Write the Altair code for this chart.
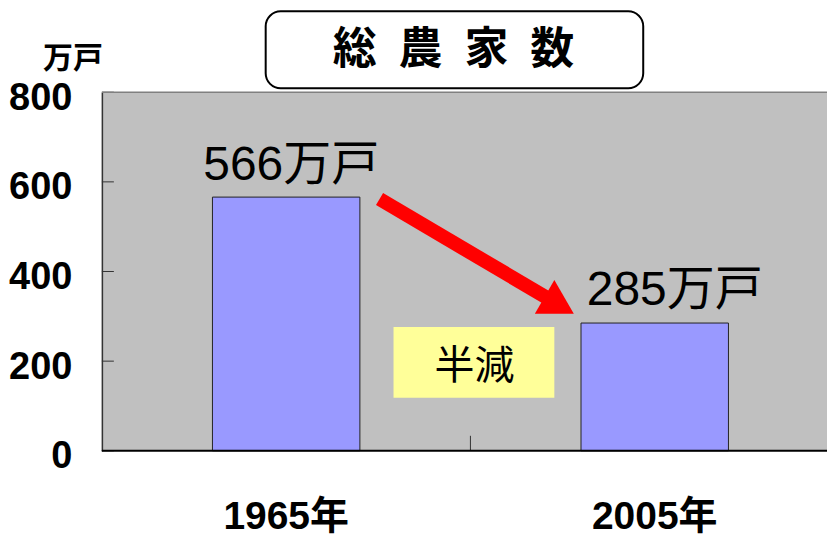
import altair as alt
import pandas as pd

# ---- data ----
years = ["1965年", "2005年"]
households = [566, 285]          # 万戸
y_ticks = [0, 200, 400, 600, 800]
title_text = "総\u2002農\u2002家\u2002数"
unit_text = "万戸"
note_text = "半減"
label_suffix = "万戸"

df = pd.DataFrame({"year": years, "value": households})
ticks_df = pd.DataFrame({"value": y_ticks})
one = pd.DataFrame({"k": [0]})

BOLD = "Liberation Sans, Arial, Noto Sans CJK JP, sans-serif"
REG = "Liberation Sans, Arial, Noto Sans CJK JP, sans-serif"
CJK = "Noto Sans CJK JP, sans-serif"

W, H = 726, 359

x_enc = alt.X(
    "year:N", sort=years, title=None,
    scale=alt.Scale(paddingInner=0.6, paddingOuter=0.2837, align=0.5287),
    axis=alt.Axis(labelAngle=0, ticks=False, domain=False,
                  labelFont=BOLD, labelFontSize=39, labelFontWeight="bold",
                  labelColor="#000", labelPadding=47),
)
y_enc = alt.Y(
    "value:Q", title=None,
    scale=alt.Scale(domain=[0, 800], nice=False),
    axis=alt.Axis(values=y_ticks, ticks=False, grid=False, domainColor="#333",
                  domainWidth=1.5, labelFont=BOLD, labelFontSize=38,
                  labelFontWeight="bold", labelColor="#000", labelPadding=30,
                  labelOffset=6),
)

bars = alt.Chart(df).mark_bar(color="#9999ff", stroke="#222", strokeWidth=1).encode(
    x=x_enc, y=y_enc
)

label_base = alt.Chart(df).transform_calculate(
    label=f"datum.value + '{label_suffix}'"
)
label1 = label_base.transform_filter(alt.datum.year == years[0]).mark_text(
    font=REG, fontSize=48, baseline="alphabetic", dy=-17, dx=5, color="#000"
).encode(x=x_enc, y=y_enc, text="label:N")
label2 = label_base.transform_filter(alt.datum.year == years[1]).mark_text(
    font=REG, fontSize=48, baseline="alphabetic", dy=-18, dx=20, color="#000"
).encode(x=x_enc, y=y_enc, text="label:N")

ytick_marks = alt.Chart(ticks_df).mark_rule(color="#333", strokeWidth=1).encode(
    y=y_enc, x=alt.value(0), x2=alt.value(12)
)
xtick_mark = alt.Chart(one).mark_rule(color="#333", strokeWidth=1).encode(
    x=alt.value(369), y=alt.value(H - 15), y2=alt.value(H)
)
top_border = alt.Chart(one).mark_rule(color="#808080", strokeWidth=1.5).encode(
    x=alt.value(0), x2=alt.value(W), y=alt.value(0)
)
bottom_axis = alt.Chart(one).mark_rule(color="#000", strokeWidth=2).encode(
    x=alt.value(0), x2=alt.value(W), y=alt.value(H)
)

arrow_shaft = alt.Chart(one).mark_rule(color="#ff0000", strokeWidth=14, strokeCap="butt").encode(
    x=alt.value(278), y=alt.value(107), x2=alt.value(446), y2=alt.value(206)
)
arrow_head = alt.Chart(one).mark_point(
    shape="triangle", filled=True, color="#ff0000", size=1521, angle=120, opacity=1
).encode(x=alt.value(453), y=alt.value(210.5))

note_box = alt.Chart(one).mark_rect(color="#ffff99").encode(
    x=alt.value(292), x2=alt.value(453), y=alt.value(235), y2=alt.value(306)
)
note_label = alt.Chart(one).mark_text(text=note_text, font=CJK, fontSize=40, color="#000").encode(
    x=alt.value(373), y=alt.value(275)
)

title_box = alt.Chart(one).mark_rect(fill="white", stroke="black", strokeWidth=2, cornerRadius=15).encode(
    x=alt.value(164), x2=alt.value(542), y=alt.value(-81), y2=alt.value(-4)
)
title_label = alt.Chart(one).mark_text(
    text=title_text, font=CJK, fontSize=44, fontWeight="bold", color="#000"
).encode(x=alt.value(352), y=alt.value(-41))

unit_label = alt.Chart(one).mark_text(
    text=unit_text, font=CJK, fontSize=30, fontWeight="bold", color="#000"
).encode(x=alt.value(-29), y=alt.value(-33))

chart = alt.layer(
    bars, ytick_marks, xtick_mark, top_border, bottom_axis, arrow_shaft, arrow_head,
    note_box, note_label, label1, label2, title_box, title_label, unit_label,
).properties(
    width=W, height=H, background="white",
    padding={"left": 0, "top": 2, "right": 0, "bottom": 0},
).configure_view(fill="#c0c0c0", stroke=None)

chart.save("out.html", embed_options={"renderer": "svg", "actions": False})
